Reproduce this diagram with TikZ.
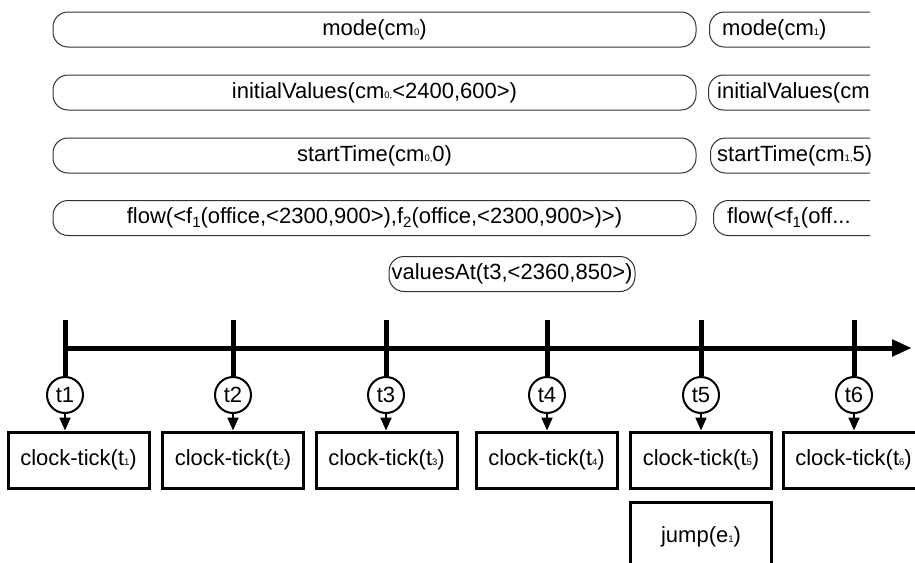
\documentclass[tikz,border=0pt]{standalone}
\usepackage{fontspec}
\setmainfont{Liberation Sans}
\usetikzlibrary{arrows.meta}

\newcommand{\subsm}[1]{{\fontsize{9.5}{9.5}\selectfont #1}}
\newcommand{\sublo}[1]{\raisebox{-4pt}{\fontsize{15}{15}\selectfont #1}}

\begin{document}
\begin{tikzpicture}[x = 1pt, y = -1pt,
  every node/.style = {font = \fontsize{22}{26}\selectfont, inner sep = 0pt},
  modebox/.style = {draw = black!80, line width = 1pt, rounded corners = 15pt, minimum height = 35pt},
  tickbox/.style = {draw, line width = 3pt, minimum width = 141pt, minimum height = 56pt},
  stamp/.style = {draw, circle, line width = 2pt, minimum size = 36pt},
  bar/.style = {line width = 5pt},
  tickarrow/.style = {line width = 2pt, -{Triangle[length = 13pt, width = 11pt]}}]
\useasboundingbox (0, 0) rectangle (915, 562);

% chart mode cm0
\node[modebox, minimum width = 643pt] (mode0) at (374.5, 29.5) {mode(cm\subsm{0})};
\node[modebox, minimum width = 643pt] (init0) at (374.5, 92.5) {initialValues(cm\subsm{0,}<2400,600>)};
\node[modebox, minimum width = 643pt] (start0) at (374.5, 155.5) {startTime(cm\subsm{0,}0)};
\node[modebox, minimum width = 643pt] (flow0) at (374.5, 218) {flow(<f\sublo{1}(office,<2300,900>),f\sublo{2}(office,<2300,900>)>)};

% chart mode cm1, cut off at the right
\begin{scope}
\clip (700, 0) rectangle (870, 250);
\node[modebox, minimum width = 250pt, anchor = west] (mode1) at (709, 29.5) {};
\node[anchor = west] (mode1txt) at ([xshift = 13pt]mode1.west) {mode(cm\subsm{1})};
\node[modebox, minimum width = 250pt, anchor = west] (init1) at (708, 92.5) {};
\node[anchor = west] (init1txt) at ([xshift = 9pt]init1.west) {initialValues(cm};
\node[modebox, minimum width = 250pt, anchor = west] (start1) at (710, 155.5) {};
\node[anchor = west] (start1txt) at ([xshift = 7pt]start1.west) {startTime(cm\subsm{1,}5)};
\node[modebox, minimum width = 250pt, anchor = west] (flow1) at (713, 218) {};
\node[anchor = west] (flow1txt) at ([xshift = 14pt]flow1.west) {flow(<f\sublo{1}(off...};
\end{scope}

\node[modebox, minimum width = 246pt] (vals) at (512, 274) {valuesAt(t3,<2360,850>)};

% time line
\coordinate (ax0) at (62.5, 348);
\coordinate (ax1) at (912, 348);
\draw[bar, -{Triangle[length = 20pt, width = 16pt]}] (ax0) -- (ax1);

\node[stamp] (c1) at (65, 395) {t1};
\node[stamp] (c2) at (233, 395) {t2};
\node[stamp] (c3) at (386, 395) {t3};
\node[stamp] (c4) at (547, 395) {t4};
\node[stamp] (c5) at (701, 395) {t5};
\node[stamp] (c6) at (854, 395) {t6};

\coordinate (k1) at (65, 320);
\coordinate (k2) at (233, 320);
\coordinate (k3) at (386, 320);
\coordinate (k4) at (547, 320);
\coordinate (k5) at (701, 320);
\coordinate (k6) at (854, 320);
\draw[bar] (k1) -- (c1);
\draw[bar] (k2) -- (c2);
\draw[bar] (k3) -- (c3);
\draw[bar] (k4) -- (c4);
\draw[bar] (k5) -- (c5);
\draw[bar] (k6) -- (c6);

% events
\node[tickbox] (ck1) at (78.5, 460) {clock-tick(t\subsm{1})};
\node[tickbox] (ck2) at (233, 460) {clock-tick(t\subsm{2})};
\node[tickbox] (ck3) at (386.5, 460) {clock-tick(t\subsm{3})};
\node[tickbox] (ck4) at (546.5, 460) {clock-tick(t\subsm{4})};
\node[tickbox] (ck5) at (701, 460) {clock-tick(t\subsm{5})};
\node[tickbox] (ck6) at (853.5, 460) {clock-tick(t\subsm{6})};
\node[tickbox, minimum height = 70pt] (jump1) at (701, 537) {jump(e\subsm{1})};

\draw[tickarrow] (c1) -- (c1 |- ck1.north);
\draw[tickarrow] (c2) -- (c2 |- ck2.north);
\draw[tickarrow] (c3) -- (c3 |- ck3.north);
\draw[tickarrow] (c4) -- (c4 |- ck4.north);
\draw[tickarrow] (c5) -- (c5 |- ck5.north);
\draw[tickarrow] (c6) -- (c6 |- ck6.north);
\end{tikzpicture}
\end{document}
